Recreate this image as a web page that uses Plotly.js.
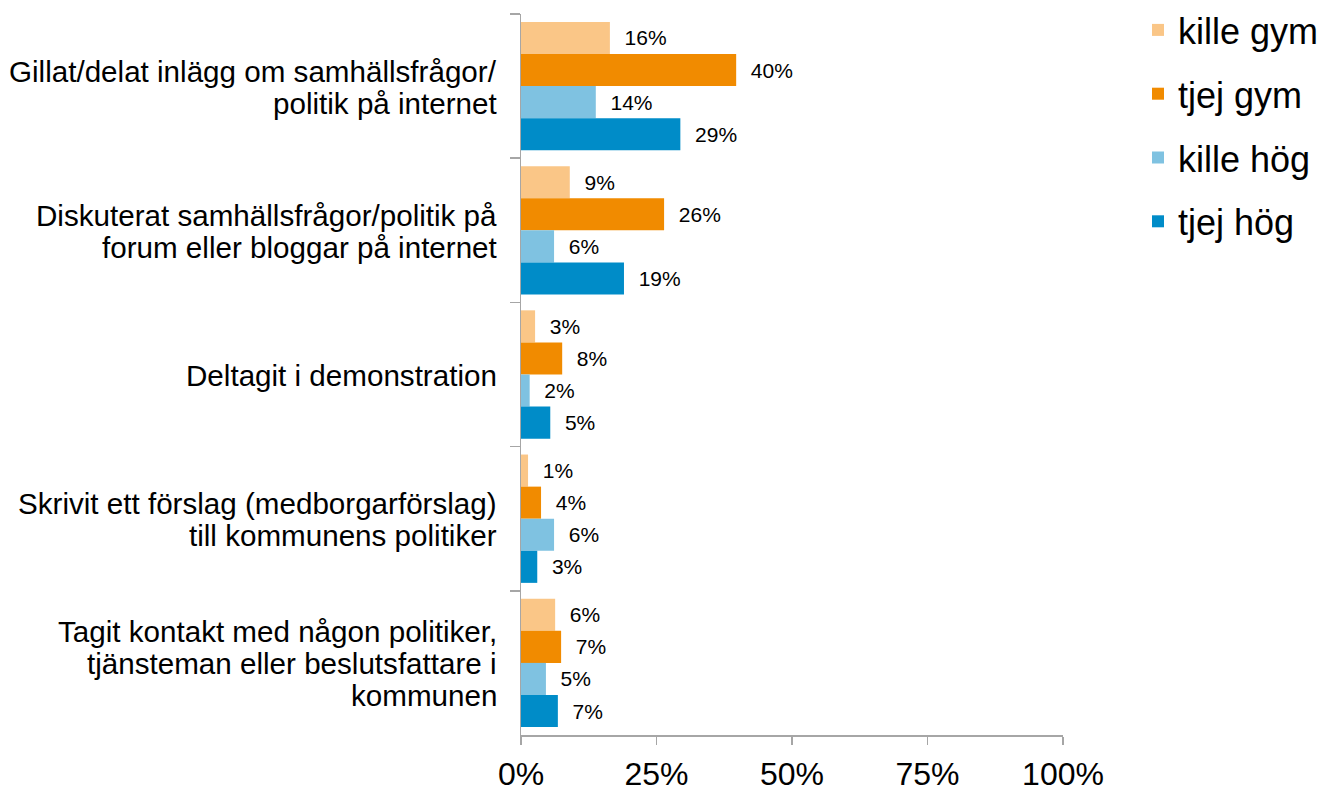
<!DOCTYPE html>
<html>
<head>
<meta charset="utf-8">
<script src="https://cdn.plot.ly/plotly-3.0.1.min.js"></script>
<style>html,body{margin:0;padding:0;background:#fff;}#chart{width:1327px;height:794px;}</style>
</head>
<body>
<div id="chart"></div>
<script>
const categories = [
  'Gillat/delat inlägg om samhällsfrågor/<br>politik på internet',
  'Diskuterat samhällsfrågor/politik på<br>forum eller bloggar på internet',
  'Deltagit i demonstration',
  'Skrivit ett förslag (medborgarförslag)<br>till kommunens politiker',
  'Tagit kontakt med någon politiker,<br>tjänsteman eller beslutsfattare i<br>kommunen'
];
const seriesNames = ['kille gym', 'tjej gym', 'kille hög', 'tjej hög'];
const killeGym = [16.4, 9.0, 2.6, 1.3, 6.3];
const tjejGym  = [39.7, 26.4, 7.6, 3.7, 7.4];
const killeHog = [13.8, 6.1, 1.6, 6.1, 4.6];
const tjejHog  = [29.4, 19.0, 5.4, 3.0, 6.8];
const xTickVals = [0, 25, 50, 75, 100];
const xTickText = ['0%', '25%', '50%', '75%', '100%'];

const colors = ['#FAC687', '#F18B00', '#7FC2E1', '#008CC8'];
const seriesValues = [killeGym, tjejGym, killeHog, tjejHog];
const FONT = 'Liberation Sans, Arial, sans-serif';

const traces = seriesValues.map((vals, i) => ({
  type: 'bar',
  orientation: 'h',
  name: seriesNames[i],
  legendgroup: 'g' + i,
  y: categories,
  x: vals,
  marker: {color: colors[i], line: {width: 0}},
  text: vals.map(v => '\u00a0\u00a0' + Math.round(v) + '%'),
  textposition: 'outside',
  cliponaxis: false,
  constraintext: 'none',
  textfont: {family: FONT, size: 21, color: '#000'},
  hoverinfo: 'x+y'
}));

const annotations = [];
const LINE_H = 32;
categories.forEach(cat => {
  const lines = cat.split('<br>');
  const n = lines.length;
  lines.forEach((ln, j) => {
    annotations.push({
      xref: 'paper', yref: 'y',
      x: 0, y: cat,
      xanchor: 'right', yanchor: 'middle',
      xshift: -22,
      yshift: ((n - 1) / 2 - j) * LINE_H - 1,
      text: ln, showarrow: false,
      font: {family: FONT, size: 29.6, color: '#000'}
    });
  });
});

const layout = {
  width: 1327, height: 794,
  margin: {l: 521, r: 264, t: 14, b: 59},
  paper_bgcolor: '#fff', plot_bgcolor: '#fff',
  barmode: 'group',
  bargap: 0.11, bargroupgap: 0,
  showlegend: true,
  legend: {
    xref: 'container', yref: 'container',
    x: 1138 / 1327, y: 1, xanchor: 'left', yanchor: 'top',
    font: {family: FONT, size: 36, color: '#000'},
    traceorder: 'grouped', tracegroupgap: 14,
    borderwidth: 0,
    bgcolor: 'rgba(0,0,0,0)'
  },
  xaxis: {
    range: [0, 100], fixedrange: true,
    tickvals: xTickVals, ticktext: xTickText,
    ticks: 'outside', ticklen: 8, tickwidth: 1.5, tickcolor: '#A6A6A6',
    ticklabelstandoff: 2,
    showline: true, linecolor: '#A6A6A6', linewidth: 1.5,
    showgrid: false, zeroline: false,
    tickfont: {family: FONT, size: 32, color: '#000'}
  },
  yaxis: {
    type: 'category', autorange: 'reversed',
    ticks: 'outside', tickson: 'boundaries', ticklen: 10, tickwidth: 1.5, tickcolor: '#A6A6A6',
    showline: true, linecolor: '#A6A6A6', linewidth: 1.5,
    showgrid: false, zeroline: false, showticklabels: false
  },
  annotations: annotations
};

Plotly.newPlot('chart', traces, layout, {displayModeBar: false, staticPlot: true});
</script>
</body>
</html>
